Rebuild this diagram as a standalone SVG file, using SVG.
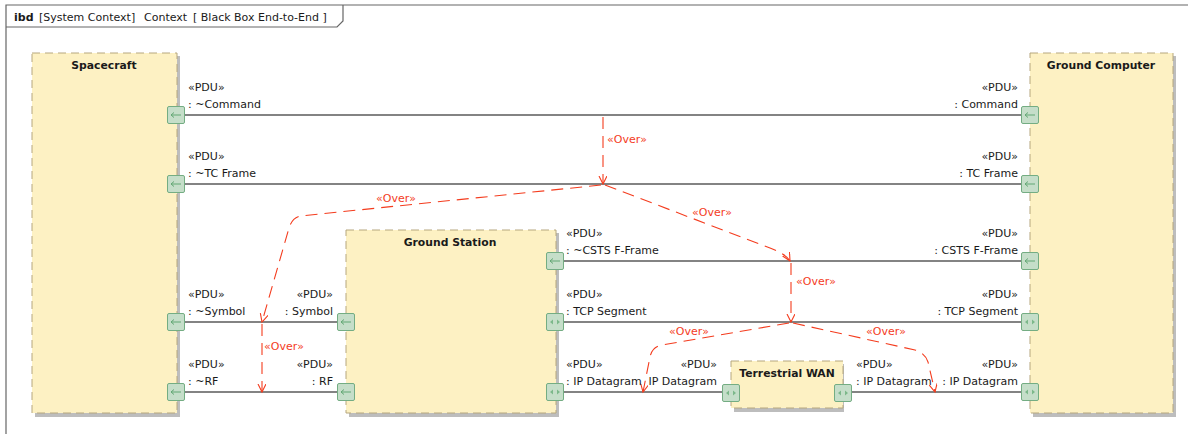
<svg xmlns="http://www.w3.org/2000/svg" xmlns:xlink="http://www.w3.org/1999/xlink" width="1188" height="434" viewBox="0 0 1188 434">
  <style>
    text { font-family: "DejaVu Sans", "Noto Sans", sans-serif; font-size: 11px; fill: #1a1a1a; }
    .title { font-weight: bold; font-size: 10.8px; text-anchor: middle; }
    .end { text-anchor: end; }
    .over { fill: #f43c1e; }
    .frame { fill: none; stroke: #666; stroke-width: 1.2; }
    .block { fill: #fdf1c3; stroke: #b6a77e; stroke-width: 1; stroke-dasharray: 8 5; }
    .shadow { fill: #bdbdbd; }
    .port { fill: #c5dec9; stroke: #74ad83; stroke-width: 1; }
    .picon { fill: none; stroke: #63a774; stroke-width: 1; }
    .ptri { fill: #7cb88a; }
    .link { fill: none; stroke: #5a5a5a; stroke-width: 1.3; }
    .dep { fill: none; stroke: #f43c1e; stroke-width: 1.1; stroke-dasharray: 12 7; marker-end: url(#open); }
  </style>
  <defs>
    <marker id="open" markerWidth="10" markerHeight="10" refX="8" refY="4" orient="auto" markerUnits="userSpaceOnUse">
      <path d="M0,0 L8,4 L0,8" fill="none" stroke="#f43c1e" stroke-width="1.1" stroke-dasharray="none"/>
    </marker>
    <!-- port with inbound arrow -->
    <g id="portIn">
      <rect class="port" x="-8.5" y="-8.5" width="17" height="17" rx="1.5"/>
      <path class="picon" d="M-5,0 H5 M-5,0 L-2,-2.5 M-5,0 L-2,2.5"/>
    </g>
    <!-- port with in/out arrows -->
    <g id="portIO">
      <rect class="port" x="-8.5" y="-8.5" width="17" height="17" rx="1.5"/>
      <path class="ptri" d="M-5,0 L-2,-2.5 L-2,2.5 Z M5,0 L2,-2.5 L2,2.5 Z"/>
    </g>
  </defs>

  <rect x="0" y="0" width="1188" height="434" fill="#ffffff"/>

  <!-- diagram frame and header tab -->
  <g id="frame">
    <path class="frame" d="M6,434 V5 H1188"/>
    <path class="frame" d="M6,27 H337 L343,21 V5"/>
    <text x="14" y="21" style="font-weight:bold">ibd</text>
    <text x="39" y="21">[System Context]</text>
    <text x="144" y="21">Context</text>
    <text x="193" y="21">[ Black Box End-to-End ]</text>
  </g>

  <!-- connectors -->
  <g id="connectors">
    <path class="link" d="M184,115 H1022"/>
    <path class="link" d="M184,184 H1022"/>
    <path class="link" d="M184,322 H338"/>
    <path class="link" d="M184,392 H338"/>
    <path class="link" d="M563,261 H1022"/>
    <path class="link" d="M563,322 H1022"/>
    <path class="link" d="M563,392 H723"/>
    <path class="link" d="M851,392 H1022"/>

    <path class="dep" d="M603,117 V184"/>
    <path class="dep" d="M601,185 L300,216 Q292,218 289,228 L262,322"/>
    <path class="dep" d="M605,185 L770,248 Q786,254 790,261"/>
    <path class="dep" d="M791,263 V322"/>
    <path class="dep" d="M789,323 L662,345 Q652,347 650,357 L643,392"/>
    <path class="dep" d="M793,323 L915,350 Q925,353 928,362 L935,392"/>
    <path class="dep" d="M262,324 V392"/>

    <text class="over" x="607" y="143">«Over»</text>
    <text class="over" x="376" y="202">«Over»</text>
    <text class="over" x="692" y="216">«Over»</text>
    <text class="over" x="796" y="285">«Over»</text>
    <text class="over" x="669" y="335">«Over»</text>
    <text class="over" x="866" y="335">«Over»</text>
    <text class="over" x="264" y="350">«Over»</text>
  </g>

  <!-- Spacecraft -->
  <g id="spacecraft">
    <rect class="shadow" x="35" y="56" width="145" height="361"/>
    <rect class="block" x="32" y="53" width="145" height="360"/>
    <text class="title" x="104" y="69">Spacecraft</text>
    <use xlink:href="#portIn" x="176" y="115"/>
    <use xlink:href="#portIn" x="176" y="184"/>
    <use xlink:href="#portIn" x="176" y="322"/>
    <use xlink:href="#portIn" x="176" y="392"/>
    <text x="188" y="91">«PDU»</text>
    <text x="188" y="108"> : ~Command</text>
    <text x="188" y="160">«PDU»</text>
    <text x="188" y="177"> : ~TC Frame</text>
    <text x="188" y="298">«PDU»</text>
    <text x="188" y="315"> : ~Symbol</text>
    <text x="188" y="368">«PDU»</text>
    <text x="188" y="385"> : ~RF</text>
  </g>

  <!-- Ground Station -->
  <g id="ground-station">
    <rect class="shadow" x="349" y="233" width="210" height="184"/>
    <rect class="block" x="346" y="230" width="210" height="183"/>
    <text class="title" x="450" y="246">Ground Station</text>
    <use xlink:href="#portIn" x="346" y="322"/>
    <use xlink:href="#portIn" x="346" y="392"/>
    <use xlink:href="#portIn" x="555" y="261"/>
    <use xlink:href="#portIO" x="555" y="322"/>
    <use xlink:href="#portIO" x="555" y="392"/>
    <text class="end" x="333" y="298">«PDU»</text>
    <text class="end" x="333" y="315">: Symbol</text>
    <text class="end" x="333" y="368">«PDU»</text>
    <text class="end" x="333" y="385">: RF</text>
    <text x="566" y="237">«PDU»</text>
    <text x="566" y="254"> : ~CSTS F-Frame</text>
    <text x="566" y="298">«PDU»</text>
    <text x="566" y="315"> : TCP Segment</text>
    <text x="566" y="368">«PDU»</text>
    <text x="566" y="385"> : IP Datagram</text>
  </g>

  <!-- Terrestrial WAN -->
  <g id="terrestrial-wan">
    <rect class="shadow" x="734" y="364" width="110" height="48"/>
    <rect class="block" x="731" y="361" width="112" height="47"/>
    <text class="title" x="787" y="377">Terrestrial WAN</text>
    <use xlink:href="#portIO" x="731" y="393"/>
    <use xlink:href="#portIO" x="843" y="393"/>
    <text class="end" x="717" y="368">«PDU»</text>
    <text class="end" x="717" y="385">IP Datagram</text>
    <text x="856" y="368">«PDU»</text>
    <text x="856" y="385"> : IP Datagram</text>
  </g>

  <!-- Ground Computer -->
  <g id="ground-computer">
    <rect class="shadow" x="1033" y="56" width="143" height="361"/>
    <rect class="block" x="1030" y="53" width="143" height="360"/>
    <text class="title" x="1101" y="69">Ground Computer</text>
    <use xlink:href="#portIn" x="1030" y="115"/>
    <use xlink:href="#portIn" x="1030" y="184"/>
    <use xlink:href="#portIn" x="1030" y="261"/>
    <use xlink:href="#portIO" x="1030" y="322"/>
    <use xlink:href="#portIO" x="1030" y="392"/>
    <text class="end" x="1018" y="91">«PDU»</text>
    <text class="end" x="1018" y="108">: Command</text>
    <text class="end" x="1018" y="160">«PDU»</text>
    <text class="end" x="1018" y="177">: TC Frame</text>
    <text class="end" x="1018" y="237">«PDU»</text>
    <text class="end" x="1018" y="254">: CSTS F-Frame</text>
    <text class="end" x="1018" y="298">«PDU»</text>
    <text class="end" x="1018" y="315">: TCP Segment</text>
    <text class="end" x="1018" y="368">«PDU»</text>
    <text class="end" x="1018" y="385">: IP Datagram</text>
  </g>
</svg>
